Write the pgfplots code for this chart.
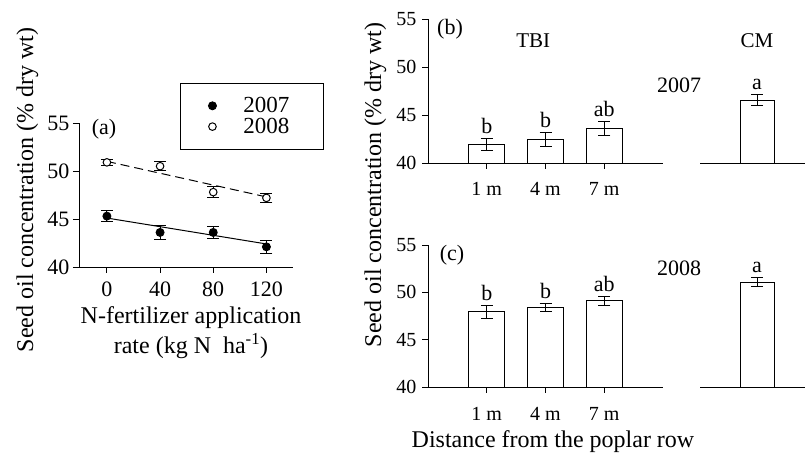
\documentclass[border=0pt]{standalone}
\usepackage{fontspec}
\setmainfont{Liberation Serif}
\usepackage{pgfplots}
\pgfplotsset{compat=1.18}

\pgfplotsset{
  panel/.style={
    scale only axis,
    anchor=south west,
    axis x line*=bottom,
    axis y line*=left,
    axis line style={line width=0.9pt, -},
    every tick/.style={line width=0.9pt, black},
    tick align=outside,
    major tick length=6pt,
    ymin=40, ymax=55,
    ytick={40,45,50,55},
    /pgf/number format/assume math mode=true,
  },
  cmpanel/.style={
    scale only axis,
    anchor=south west,
    axis x line*=bottom,
    axis y line=none,
    axis line style={line width=0.9pt, -},
    xtick=\empty, ytick=\empty,
    xmin=700, xmax=805,
    ymin=40, ymax=55,
  },
  errs/.style={
    error bars/y dir=both, error bars/y explicit,
    error bars/error bar style={line width=0.9pt, black},
    error bars/error mark options={rotate=90, mark size=6pt, line width=0.9pt, black},
  },
  bars/.style={ybar, fill=white, draw=black, line width=0.9pt, errs},
}

\begin{document}
\begin{tikzpicture}
\useasboundingbox (0pt,0pt) rectangle (806pt,455pt);

% (a) N-fertilizer rate
\begin{axis}[panel, at={(79pt,188pt)}, width=214pt, height=144pt,
  xmin=-21, xmax=140, xtick={0,40,80,120},
  ticklabel style={font=\fontsize{22}{26}\selectfont},
  xticklabel style={yshift=-5pt},
  legend style={at={(axis description cs:0.472,1.278)}, anchor=north west,
    draw=black, line width=0.9pt, font=\fontsize{23}{27}\selectfont,
    inner xsep=28pt, inner ysep=12pt, row sep=0pt, column sep=25pt},
  legend cell align=left,
]
\addplot[forget plot, line width=1pt, black] coordinates {(0,45.1) (120,42.4)};
\addplot[forget plot, line width=1pt, black, dash pattern=on 9pt off 5pt] coordinates {(0,51.0) (120,47.3)};
\addplot[only marks, mark=*, mark size=4pt, black, mark options={line width=0.9pt}, errs]
  coordinates {(0,45.3) +- (0,0.55) (40,43.6) +- (0,0.7) (80,43.6) +- (0,0.6) (120,42.1) +- (0,0.7)};
\addlegendentry{\makebox[50pt][l]{2007}}
\addplot[only marks, mark=*, mark size=3.8pt, black, mark options={fill=white, draw=black, line width=1pt}, errs]
  coordinates {(0,50.9) +- (0,0.35) (40,50.5) +- (0,0.45) (80,47.8) +- (0,0.55) (120,47.2) +- (0,0.45)};
\addlegendentry{\makebox[50pt][l]{2008}}
\end{axis}

% (b) 2007 by distance
\begin{axis}[panel, at={(428pt,292pt)}, width=235pt, height=144pt,
  xmin=0, xmax=4, xtick={1,2,3}, xticklabels={1 m,4 m,7 m},
  ticklabel style={font=\fontsize{20}{24}\selectfont},
  xticklabel style={yshift=-10pt},
  yticklabel style={xshift=-2pt},
]
\addplot[bars, bar width=0.615]
  coordinates {(1,41.95) +- (0,0.6) (2,42.47) +- (0,0.7) (3,43.6) +- (0,0.7)};
\node[anchor=base, yshift=5pt, font=\fontsize{22}{26}\selectfont] at (axis cs:1,42.55) {b};
\node[anchor=base, yshift=5pt, font=\fontsize{22}{26}\selectfont] at (axis cs:2,43.17) {b};
\node[anchor=base, yshift=5pt, font=\fontsize{22}{26}\selectfont] at (axis cs:3,44.3) {ab};
\node[anchor=base, font=\fontsize{21}{25}\selectfont] at (axis cs:1.79,52.08) {TBI};
\end{axis}
\begin{axis}[cmpanel, at={(700pt,292pt)}, width=105pt, height=144pt]
\addplot[bars, bar width=34] coordinates {(757,46.56) +- (0,0.6)};
\node[anchor=base, yshift=5pt, font=\fontsize{22}{26}\selectfont] at (axis cs:757,47.16) {a};
\node[anchor=base, font=\fontsize{21}{25}\selectfont] at (axis cs:757,52.08) {CM};
\end{axis}

% (c) 2008 by distance
\begin{axis}[panel, at={(428pt,68pt)}, width=235pt, height=142pt,
  xmin=0, xmax=4, xtick={1,2,3}, xticklabels={1 m,4 m,7 m},
  ticklabel style={font=\fontsize{20}{24}\selectfont},
  xticklabel style={yshift=-11pt},
  yticklabel style={xshift=-2pt},
]
\addplot[bars, bar width=0.615]
  coordinates {(1,47.94) +- (0,0.7) (2,48.37) +- (0,0.44) (3,49.1) +- (0,0.44)};
\node[anchor=base, yshift=5pt, font=\fontsize{22}{26}\selectfont] at (axis cs:1,48.64) {b};
\node[anchor=base, yshift=5pt, font=\fontsize{22}{26}\selectfont] at (axis cs:2,48.81) {b};
\node[anchor=base, yshift=5pt, font=\fontsize{22}{26}\selectfont] at (axis cs:3,49.54) {ab};
\end{axis}
\begin{axis}[cmpanel, at={(700pt,68pt)}, width=105pt, height=142pt]
\addplot[bars, bar width=34] coordinates {(757,51.09) +- (0,0.5)};
\node[anchor=base, yshift=5pt, font=\fontsize{22}{26}\selectfont] at (axis cs:757,51.59) {a};
\end{axis}

% titles and axis labels
\node[anchor=base, font=\fontsize{22}{26}\selectfont] at (104pt,320pt) {(a)};
\node[anchor=base, font=\fontsize{22}{26}\selectfont] at (450pt,420pt) {(b)};
\node[anchor=base, font=\fontsize{22}{26}\selectfont] at (452pt,194pt) {(c)};
\node[anchor=base, font=\fontsize{22}{26}\selectfont] at (679pt,362pt) {2007};
\node[anchor=base, font=\fontsize{22}{26}\selectfont] at (679pt,179pt) {2008};
\node[anchor=base, rotate=90, font=\fontsize{24}{28}\selectfont] at (33pt,265pt) {Seed oil concentration (\% dry wt)};
\node[anchor=base, rotate=90, font=\fontsize{24}{28}\selectfont] at (381pt,270pt) {Seed oil concentration (\% dry wt)};
\node[anchor=base, font=\fontsize{24}{28}\selectfont] at (191pt,131pt) {N-fertilizer application};
\node[anchor=base, font=\fontsize{24}{28}\selectfont] at (191pt,101pt) {rate (kg N\ \ ha\textsuperscript{-1})};
\node[anchor=base, font=\fontsize{24}{28}\selectfont] at (553pt,7pt) {Distance from the poplar row};
\end{tikzpicture}
\end{document}
